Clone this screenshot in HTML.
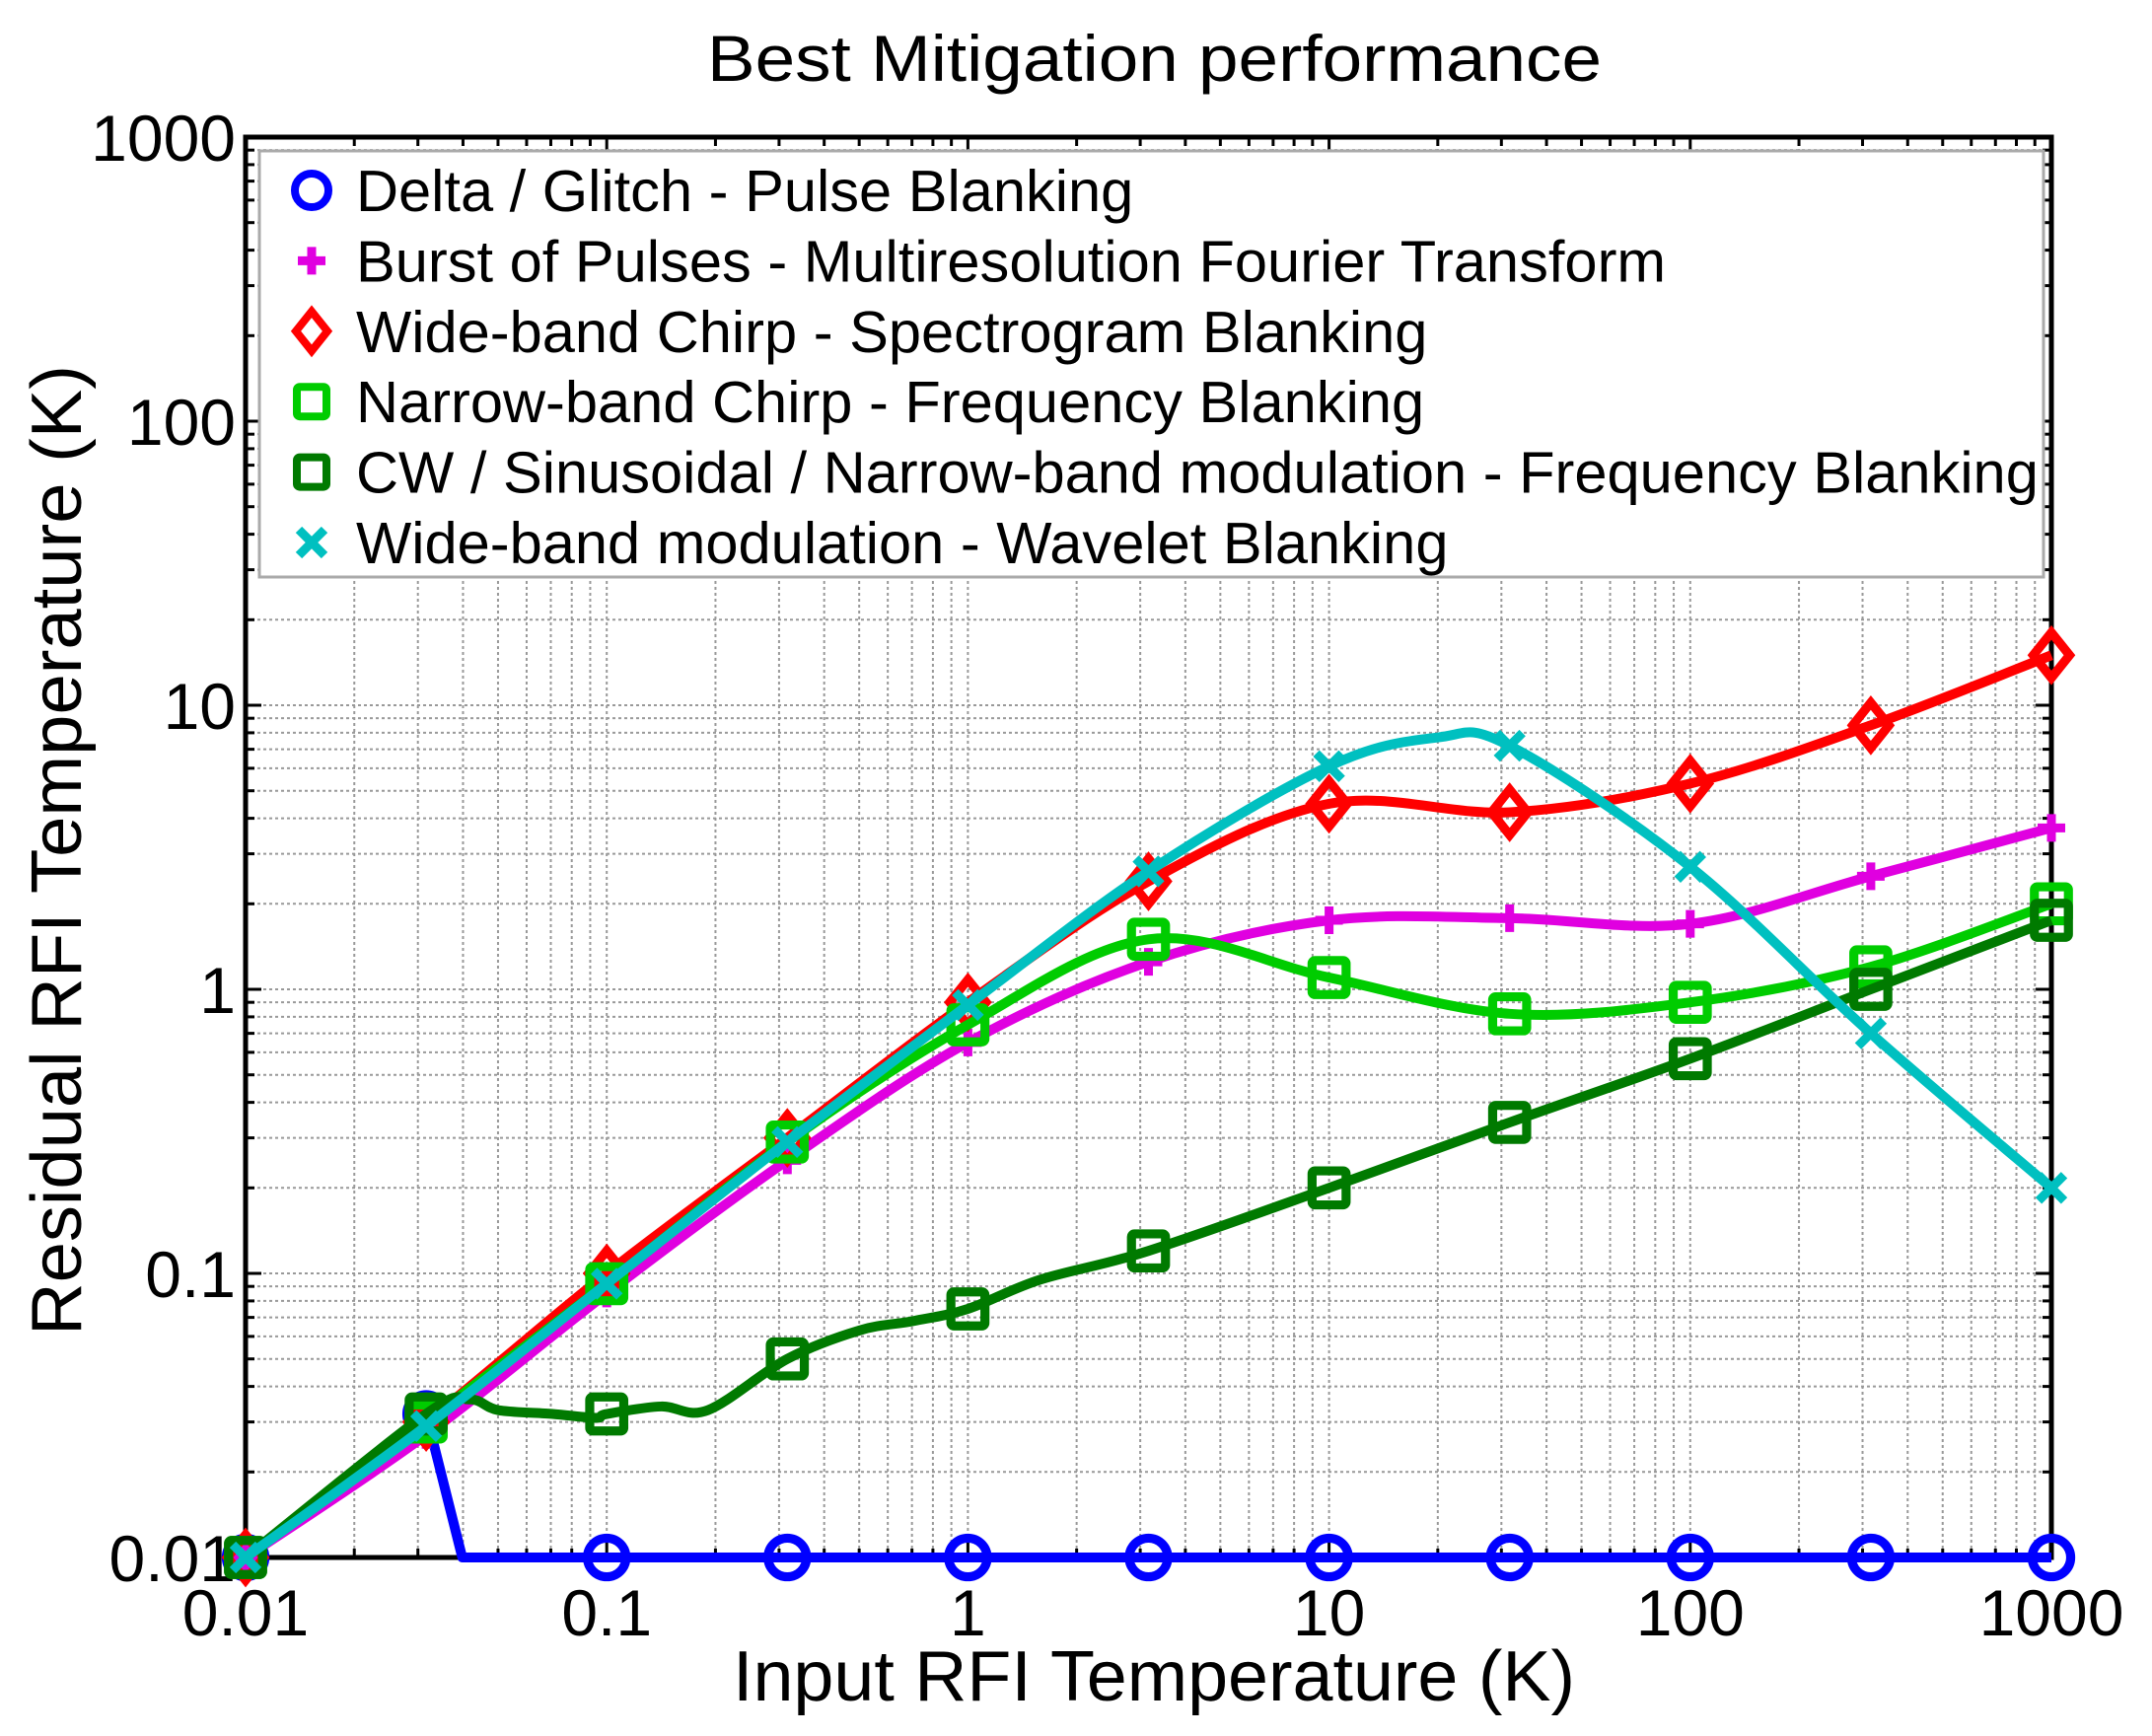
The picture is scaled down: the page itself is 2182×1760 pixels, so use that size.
<!DOCTYPE html>
<html><head><meta charset="utf-8"><style>
html,body{margin:0;padding:0;background:#fff;width:2182px;height:1760px;overflow:hidden}
svg{display:block}
text{font-family:"Liberation Sans",Arial,sans-serif;fill:#000}
</style></head><body>
<svg id="s" width="2182" height="1760" xmlns="http://www.w3.org/2000/svg">
<text x="717" y="82" font-size="66" textLength="907" lengthAdjust="spacingAndGlyphs">Best Mitigation performance</text>
<text x="743" y="1724" font-size="72" textLength="854" lengthAdjust="spacingAndGlyphs">Input RFI Temperature (K)</text>
<text transform="translate(82,1354) rotate(-90)" font-size="72" textLength="984" lengthAdjust="spacingAndGlyphs">Residual RFI Temperature (K)</text>
<g id="g"></g>
</svg>
<script>
var L=249,R=2080,T=139,B=1579;
function X(l){return L+(l+2)*(R-L)/5}
function Y(v){return B-(Math.log10(v)+2)*(B-T)/5}
var o='';
for(var d=-2;d<3;d++)for(var k=1;k<10;k++){var l=d+Math.log10(k);if(l<=-2)continue;var x=X(l);
o+='<line x1="'+x+'" y1="'+T+'" x2="'+x+'" y2="'+B+'" stroke="#999" stroke-width="2" stroke-dasharray="3,3"/>';
o+='<line x1="'+x+'" y1="'+B+'" x2="'+x+'" y2="'+(B-(k==1?16:9))+'" stroke="#000" stroke-width="3"/>';
o+='<line x1="'+x+'" y1="'+T+'" x2="'+x+'" y2="'+(T+(k==1?16:9))+'" stroke="#000" stroke-width="3"/>';
var y=B-(l+2)*(B-T)/5;
o+='<line x1="'+L+'" y1="'+y+'" x2="'+R+'" y2="'+y+'" stroke="#999" stroke-width="2" stroke-dasharray="3,3"/>';
o+='<line x1="'+L+'" y1="'+y+'" x2="'+(L+(k==1?16:9))+'" y2="'+y+'" stroke="#000" stroke-width="3"/>';
o+='<line x1="'+R+'" y1="'+y+'" x2="'+(R-(k==1?16:9))+'" y2="'+y+'" stroke="#000" stroke-width="3"/>';
}
o+='<rect x="'+L+'" y="'+T+'" width="'+(R-L)+'" height="'+(B-T)+'" fill="none" stroke="#000" stroke-width="5"/>';
var xl=['0.01','0.1','1','10','100','1000'];
for(var i=0;i<6;i++){o+='<text x="'+X(i-2)+'" y="1658" font-size="66" text-anchor="middle">'+xl[i]+'</text>';
o+='<text x="'+(L-10)+'" y="'+(Y(Math.pow(10,i-2))+24)+'" font-size="66" text-anchor="end">'+xl[i]+'</text>';}
o+='<rect x="263" y="153" width="1809" height="432" fill="#fff" stroke="#aaa" stroke-width="3"/>';
var leg=[['Delta / Glitch - Pulse Blanking','#0000ff','o'],['Burst of Pulses - Multiresolution Fourier Transform','#e000e0','+'],['Wide-band Chirp - Spectrogram Blanking','#ff0000','d'],['Narrow-band Chirp - Frequency Blanking','#00cc00','s'],['CW / Sinusoidal / Narrow-band modulation - Frequency Blanking','#007a00','s'],['Wide-band modulation - Wavelet Blanking','#00c0c0','x']];
function mk(t,c,x,y,s){s=s||1;
 if(t=='o')return '<circle cx="'+x+'" cy="'+y+'" r="'+(17*s)+'" fill="none" stroke="'+c+'" stroke-width="'+(8*s)+'"/>';
 if(t=='+')return '<path d="M'+(x-14)+' '+y+'h28M'+x+' '+(y-14)+'v28" stroke="'+c+'" stroke-width="9" fill="none"/>';
 if(t=='d')return '<path d="M'+x+' '+(y-20*s)+'L'+(x+16*s)+' '+y+'L'+x+' '+(y+20*s)+'L'+(x-16*s)+' '+y+'Z" stroke="'+c+'" stroke-width="'+(8*s)+'" fill="none"/>';
 if(t=='s')return '<rect x="'+(x-15*s)+'" y="'+(y-15*s)+'" width="'+(30*s)+'" height="'+(30*s)+'" rx="3" stroke="'+c+'" stroke-width="'+(8*s)+'" fill="none"/>';
 if(t=='x')return '<path d="M'+(x-13)+' '+(y-13)+'l26 26M'+(x+13)+' '+(y-13)+'l-26 26" stroke="'+c+'" stroke-width="9" fill="none"/>';
}
for(var i=0;i<6;i++){var y=193+i*71.4;o+=mk(leg[i][2],leg[i][1],316,y);
o+='<text x="361" y="'+(y+21)+'" font-size="59.6">'+leg[i][0]+'</text>';}
function path(pts){var p=pts.map(function(q){return [X(q[0]),Y(q[1])]});var d='M'+p[0][0]+' '+p[0][1];
for(var i=0;i<p.length-1;i++){var p0=p[i-1]||p[i],p1=p[i],p2=p[i+1],p3=p[i+2]||p2;
d+='C'+(p1[0]+(p2[0]-p0[0])/6)+' '+(p1[1]+(p2[1]-p0[1])/6)+' '+(p2[0]-(p3[0]-p1[0])/6)+' '+(p2[1]-(p3[1]-p1[1])/6)+' '+p2[0]+' '+p2[1];}return d;}
var xs=[-2,-1.5,-1,-0.5,0,0.5,1,1.5,2,2.5,3];
function ser(v){return xs.map(function(x,i){return [x,v[i]]})}
var S=[
 ['#0000ff','o',[[-2,0.01],[-1.5,0.032],[-1.4,0.01],[-1,0.01],[-0.5,0.01],[0,0.01],[0.5,0.01],[1,0.01],[1.5,0.01],[2,0.01],[2.5,0.01],[3,0.01]],[0,1,3,4,5,6,7,8,9,10,11],true],
 ['#e000e0','+',ser([0.01,0.027,0.085,0.25,0.65,1.25,1.75,1.78,1.7,2.5,3.7])],
 ['#ff0000','d',ser([0.01,0.03,0.1,0.3,0.9,2.4,4.5,4.2,5.3,8.5,15])],
 ['#00cc00','s',ser([0.01,0.03,0.092,0.29,0.75,1.5,1.1,0.82,0.9,1.2,2.0])],
 ['#007a00','s',[[-2,0.01],[-1.5,0.032],[-1.38,0.036],[-1.3,0.033],[-1.15,0.032],[-1.03,0.031],[-1,0.032],[-0.85,0.034],[-0.72,0.033],[-0.5,0.05],[-0.3,0.063],[-0.15,0.068],[0,0.075],[0.2,0.095],[0.5,0.12],[1,0.2],[1.5,0.34],[2,0.57],[2.5,1.0],[3,1.75]],[0,1,6,9,12,14,15,16,17,18,19]],
 ['#00c0c0','x',[[-2,0.01],[-1.5,0.029],[-1,0.092],[-0.5,0.29],[0,0.88],[0.5,2.6],[1,6.1],[1.3,7.7],[1.5,7.2],[2,2.7],[2.5,0.7],[3,0.2]],[0,1,2,3,4,5,6,8,9,10,11]]
];
S.forEach(function(s){var d;
 if(s[4]){var p=s[2].map(function(q){return X(q[0])+' '+Y(q[1])});d='M'+p.join('L');}else d=path(s[2]);
 o+='<path d="'+d+'" fill="none" stroke="'+s[0]+'" stroke-width="10" stroke-linejoin="round"/>';
 var idx=s[3]||s[2].map(function(_,i){return i});
 idx.forEach(function(i){var q=s[2][i];o+=mk(s[1],s[0],X(q[0]),Y(q[1]),1.15);});
});
document.getElementById('g').innerHTML=o;
</script>
</body></html>
